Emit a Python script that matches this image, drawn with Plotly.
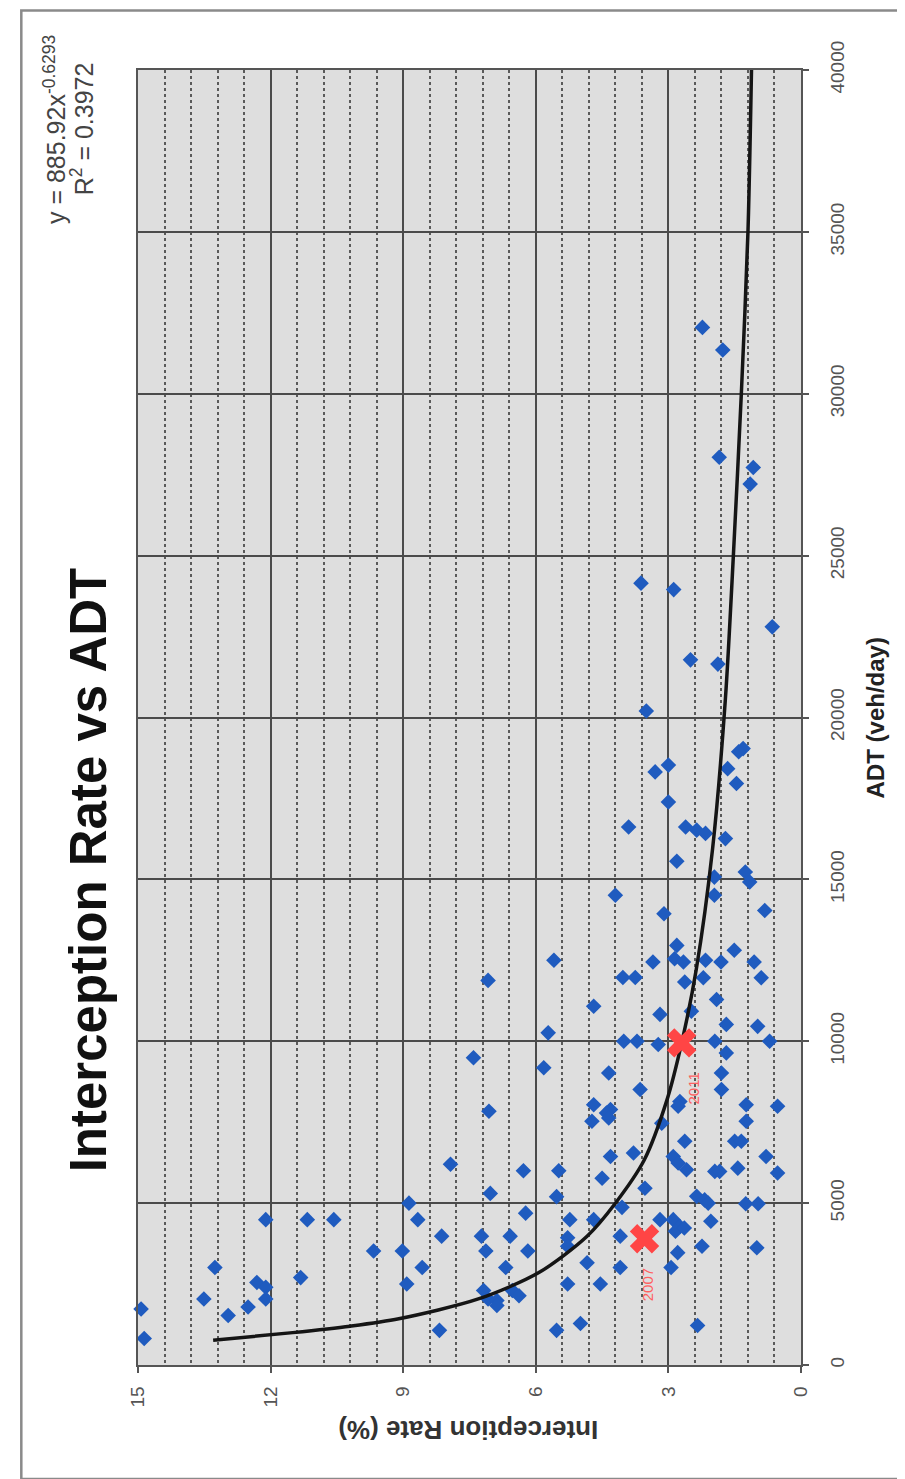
import plotly.graph_objects as go

# ---------------- data ----------------
# Site observations: interception rate (%) vs ADT (veh/day)
rate = [
    # ADT below ~5000
    8.87, 8.67, 12.11, 11.17, 10.57, 6.23, 5.23, 4.69, 4.05, 3.19,
    2.89, 2.74, 2.84, 2.64, 2.04, 8.13, 7.23, 6.58, 7.13, 5.28,
    5.28, 4.09, 2.24, 2.79, 1.00, 9.67, 9.02, 6.18, 8.57, 6.68,
    4.84, 4.09, 2.94, 13.26, 11.32, 12.31, 12.11, 12.11, 8.92, 5.28,
    4.54, 7.18, 7.08, 6.88, 6.88, 6.53, 6.38, 13.51, 12.51, 12.96,
    14.93, 14.86, 8.18, 5.53, 4.99, 2.34,
    # ADT 5000-6400, higher rates
    7.93, 6.28, 5.48, 7.03, 5.53,
    # ADT 5000-12000, rates below ~5.3
    4.03, 3.75, 2.63, 2.21, 0.90, 4.69, 1.91, 3.19, 2.48, 1.69,
    0.98, 4.01, 3.71, 3.23, 1.95, 1.69, 0.71, 4.35, 3.64, 1.80,
    1.80, 2.74, 2.78, 4.69, 4.31, 4.40, 4.35, 4.73, 1.24, 1.24,
    0.53, 3.15, 2.63, 1.50, 1.35, 4.31, 3.79, 2.89, 2.78, 2.59,
    1.95, 1.84, 1.43, 0.79, 0.53, 4.50, 3.53, 2.36, 2.18, 2.10,
    1.25, 0.97,
    # ADT 6400-11300, higher rates
    5.72, 7.41, 5.82, 7.06,
    # ADT 11800-16000
    2.81, 1.26, 1.16, 1.96, 1.96, 4.20, 0.82, 3.10, 2.81, 5.59,
    3.35, 2.86, 2.66, 2.16, 1.81, 1.51, 1.06, 7.08,
    # ADT 16000-20600
    3.50, 1.31, 1.41, 3.00, 3.30, 1.66, 1.46, 3.00, 3.90, 2.61,
    2.36, 2.16, 1.71,
    # ADT above 20600
    2.23, 1.77, 1.85, 1.08, 1.15, 3.62, 2.88, 0.65, 2.50, 1.88,
]
adt = [
    5000, 4490, 4490, 4490, 4490, 4690, 4490, 4490, 4870, 4490,
    4490, 4280, 4130, 4230, 4440, 3980, 3980, 3980, 3520, 3930,
    3670, 3980, 3670, 3470, 3620, 3520, 3520, 3520, 3010, 3010,
    3160, 3010, 3010, 3010, 2700, 2550, 2400, 2040, 2500, 2500,
    2500, 2300, 2040, 1990, 1840, 2300, 2140, 2040, 1790, 1530,
    1730, 820, 1070, 1070, 1280, 1220,
    6200, 6000, 6000, 5300, 5200,
    11970, 11970, 11830, 11960, 11960, 11080, 11290, 10830, 10930, 10520,
    10460, 10000, 10000, 9900, 10000, 9640, 10000, 9020, 8510, 9020,
    8510, 8140, 7990, 8040, 7890, 7780, 7630, 7530, 8040, 7530,
    7990, 7470, 6910, 6910, 6910, 6440, 6550, 6440, 6240, 6030,
    5980, 5980, 6080, 6440, 5930, 5770, 5460, 5210, 5100, 5000,
    4980, 4980,
    10260, 9490, 9180, 7840,
    15560, 15230, 14920, 15070, 14510, 14510, 14040, 13940, 12960, 12500,
    12450, 12550, 12450, 12500, 12450, 12810, 12450, 11880,
    20200, 19040, 18940, 18530, 18320, 18420, 17960, 17390, 16620, 16620,
    16520, 16420, 16260,
    32050, 31350, 28040, 27720, 27210, 24150, 23950, 22800, 21780, 21650,
]

# Power trendline as drawn
trend_adt = [765, 1000, 1200, 1428, 2040, 2856, 3978, 4998, 6324, 8196,
             9948, 12216, 15948, 20587, 25000, 30000, 35000, 40000]
trend_rate = [13.3, 11.5, 10.2, 9.1, 7.3, 5.93, 4.84, 4.2, 3.55, 3.03,
              2.70, 2.37, 2.0, 1.71, 1.53, 1.35, 1.2, 1.12]

# Highlighted years (red crosses)
hl_rate = [3.54, 2.70]
hl_adt = [3900, 9950]
hl_labels = ["2007", "2011"]

# Axis ticks
rate_ticks = [0, 3, 6, 9, 12, 15]
adt_ticks = [0, 5000, 10000, 15000, 20000, 25000, 30000, 35000, 40000]

title_text = "Interception Rate vs ADT"
x_title = "Interception Rate (%)"
y_title = "ADT (veh/day)"
eq_line1 = "y = 885.92x<sup>-0.6293</sup>"
eq_line2 = "R<sup>2</sup> = 0.3972"

# ---------------- figure ----------------
FONT = "Liberation Sans, Arial, sans-serif"

fig = go.Figure()
fig.add_trace(go.Scatter(
    x=rate, y=adt, mode="markers", cliponaxis=False,
    marker=dict(symbol="diamond", size=12, color="#1f5bbf", line=dict(width=0)),
    showlegend=False, hoverinfo="skip"))
fig.add_trace(go.Scatter(
    x=trend_rate, y=trend_adt, mode="lines",
    line=dict(color="#151515", width=3.5, shape="spline", smoothing=0.8),
    showlegend=False, hoverinfo="skip"))
fig.add_trace(go.Scatter(
    x=hl_rate, y=hl_adt, mode="markers",
    marker=dict(symbol="x", size=26, color="#ff4545", line=dict(width=0)),
    showlegend=False, hoverinfo="skip"))

label_shift = {"2007": 3, "2011": 12}
for r, a, t in zip(hl_rate, hl_adt, hl_labels):
    fig.add_annotation(x=r, y=a, text=t, textangle=-90, showarrow=False,
                       xanchor="center", yanchor="middle",
                       xshift=label_shift[t], yshift=-46,
                       font=dict(family=FONT, size=15, color="#ff6060"))

fig.update_xaxes(
    range=[15, 0], tickvals=rate_ticks, ticktext=[str(v) for v in rate_ticks],
    tickangle=-90, ticks="outside", ticklen=6, tickcolor="#555", tickwidth=1.5,
    tickfont=dict(family=FONT, size=19, color="#555"), ticklabelstandoff=6,
    showline=True, mirror=True, linecolor="#555", linewidth=1.5,
    showgrid=True, gridcolor="#4a4a4a", gridwidth=1.5, zeroline=False,
    automargin=False,
    minor=dict(dtick=0.6, tick0=0, showgrid=True, gridcolor="#5a5a5a",
               griddash="dot", gridwidth=2),
)
fig.update_yaxes(
    range=[0, 40000], side="right", tickvals=adt_ticks,
    ticktext=[str(v) for v in adt_ticks],
    tickangle=-90, ticks="outside", ticklen=6, tickcolor="#555", tickwidth=1.5,
    tickfont=dict(family=FONT, size=19, color="#555"), ticklabelstandoff=12,
    showline=True, mirror=True, linecolor="#555", linewidth=1.5,
    showgrid=True, gridcolor="#4a4a4a", gridwidth=2, zeroline=False,
    automargin=False,
)

# Rotated titles and trendline equation (centre-anchored)
def rot_text(x, y, text, angle, size, color, weight="normal"):
    fig.add_annotation(xref="paper", yref="paper", x=x, y=y, text=text,
                       textangle=angle, showarrow=False,
                       xanchor="center", yanchor="middle",
                       font=dict(family=FONT, size=size, color=color, weight=weight))

rot_text(-0.0754, 0.382, title_text, -90, 51, "#111", "bold")
rot_text(1.113, 0.50, y_title, -90, 24, "#222", "bold")
rot_text(0.498, -0.0502, x_title, 180, 26, "#333", "bold")
rot_text(-0.1252, 0.9544, eq_line1, -90, 25, "#444")
rot_text(-0.084, 0.9544, eq_line2, -90, 25, "#444")

# Outer chart frame
fig.add_shape(type="rect", xref="paper", yref="paper",
              x0=-0.176, x1=1.163, y0=-0.088, y1=1.046,
              line=dict(color="#8a8a8a", width=2.5), fillcolor="rgba(0,0,0,0)")

fig.update_layout(
    width=905, height=1479, autosize=False,
    margin=dict(l=130, r=112, t=62, b=122),
    paper_bgcolor="white", plot_bgcolor="#dedede",
    showlegend=False,
    font=dict(family=FONT),
)

fig.write_html("out.html")
